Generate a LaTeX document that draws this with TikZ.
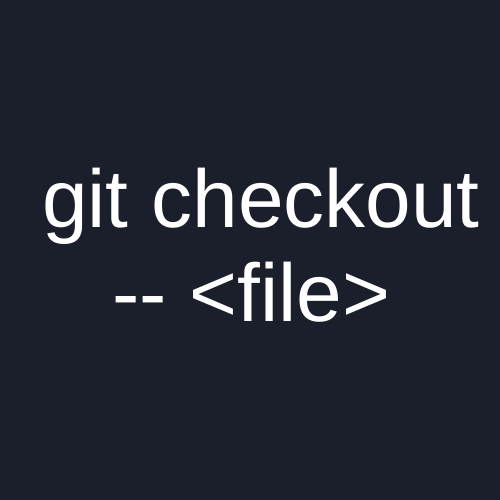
\documentclass[tikz,border=0pt]{standalone}
\usepackage{fontspec}
\setmainfont{Liberation Sans}
\usepackage{tikz}
\definecolor{bgdark}{RGB}{27,31,44}

\begin{document}
\begin{tikzpicture}[x=1pt,y=1pt,
    cmdtext/.style={anchor=base west,inner sep=0pt,text=white,font=\fontsize{82}{96}\selectfont}]
% Background
\fill[bgdark] (0,0) rectangle (500,500);
\useasboundingbox (0,0) rectangle (500,500);

% Command
\node[cmdtext] (cmd) at (42,272) {git checkout};
\node[cmdtext] (arg) at (112,178) {-\kern0pt- <file>};
\end{tikzpicture}
\end{document}
